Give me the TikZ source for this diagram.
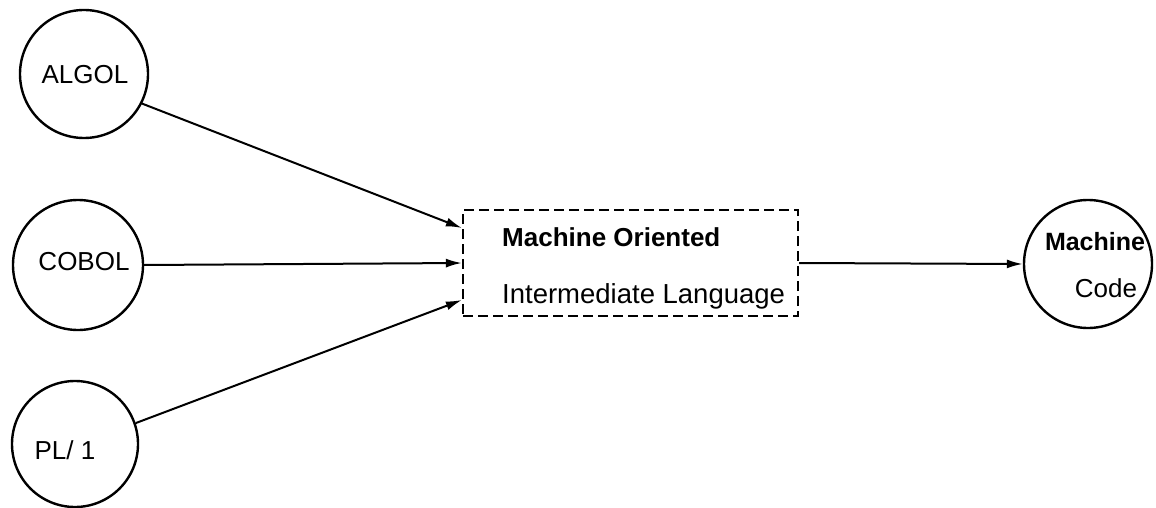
\documentclass[tikz,border=0pt]{standalone}
\usepackage{fontspec}
\setmainfont{Liberation Sans}
\usetikzlibrary{arrows.meta}
\tikzset{
  lang/.style={circle, draw, line width=2.4pt, inner sep=0pt, minimum size=128pt},
  lbl/.style={inner sep=0pt, font=\fontsize{26}{30}\selectfont},
  lblb/.style={inner sep=0pt, font=\fontsize{25}{30}\selectfont\bfseries},
  milbox/.style={draw, line width=2.2pt, dash pattern=on 10pt off 5pt, inner sep=0pt, minimum width=335pt, minimum height=106pt},
  conn/.style={line width=2pt, -{Latex[length=16pt,width=9pt]}}
}
\begin{document}
\begin{tikzpicture}[x=1pt,y=-1pt]
\useasboundingbox (0,0) rectangle (1156,508);
% circles
\node[lang] (algol) at (84,74) {};
\node[lang, minimum size=130pt] (cobol) at (78,265) {};
\node[lang, minimum size=126pt] (pl1) at (75,444) {};
\node[lang] (mc) at (1088,264) {};
% labels
\node[lbl] (talgol) at (85,75) {ALGOL};
\node[lbl] (tcobol) at (84,262) {COBOL};
\node[lbl] (tpl1) at (65,450) {PL/ 1};
\node[lblb] (tmach) at (1095,242) {Machine};
\node[lbl] (tcode) at (1106,288) {Code};
% box
\node[milbox] (mol) at (630.5,263) {};
\node[lblb, anchor=base west, font=\fontsize{26}{30}\selectfont\bfseries] (t1) at (502,246) {Machine Oriented};
\node[lbl, anchor=base west, font=\fontsize{27.5}{30}\selectfont] (t2) at (502,303) {Intermediate Language};
% connectors
\draw[conn] (algol.-27) -- ([yshift=35pt]mol.west);
\draw[conn] (cobol.east) -- (mol.west);
\draw[conn] (pl1.19) -- ([yshift=-37pt]mol.west);
\draw[conn] (mol.east) -- (mc.west);
\end{tikzpicture}
\end{document}
